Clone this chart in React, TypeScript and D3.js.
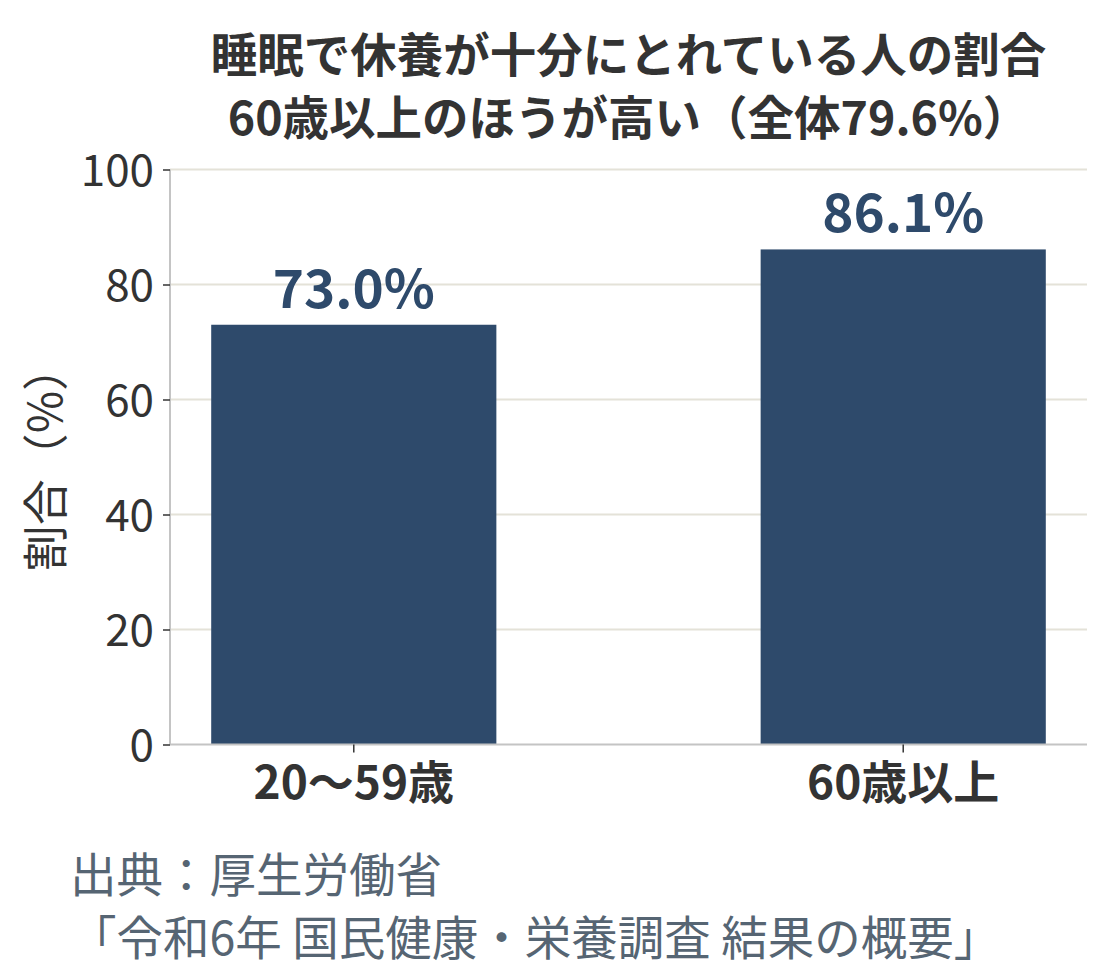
import React, { useEffect, useRef } from "react";
import * as d3 from "d3";

const categories = ["20〜59歳", "60歳以上"];
const values = [73.0, 86.1];
const yTicks = [0, 20, 40, 60, 80, 100];
const titleLines = ["睡眠で休養が十分にとれている人の割合", "60歳以上のほうが高い（全体79.6%）"];
const sourceLines = ["出典：厚生労働省", "「令和6年 国民健康・栄養調査 結果の概要」"];

const FONT = "'Noto Sans CJK JP', 'Noto Sans', sans-serif";
const BAR = "#2e4a6b";
const INK = "#333333";

const width = 1110;
const height = 975;
const margin = { top: 169.5, right: 23, bottom: 230.5, left: 170 };

const YAxis = ({ scale, left, top }) => {
  const ref = useRef(null);
  useEffect(() => {
    const g = d3.select(ref.current);
    g.call(d3.axisLeft(scale).tickValues(yTicks).tickSize(7).tickPadding(9));
    g.select(".domain").remove();
    g.selectAll(".tick line").attr("stroke", INK).attr("stroke-width", 1.5);
    g.selectAll(".tick text")
      .attr("fill", INK)
      .attr("font-size", 44)
      .attr("font-family", FONT)
      .attr("dy", "0.36em");
  });
  return <g ref={ref} transform={`translate(${left}, ${top})`} />;
};

const XAxis = ({ scale, left, top }) => {
  const ref = useRef(null);
  useEffect(() => {
    const g = d3.select(ref.current);
    g.call(d3.axisBottom(scale).tickSize(8).tickPadding(14));
    g.select(".domain").remove();
    g.selectAll(".tick line").attr("stroke", INK).attr("stroke-width", 1.5);
    g.selectAll(".tick text")
      .attr("fill", INK)
      .attr("font-size", 46)
      .attr("font-weight", "bold")
      .attr("font-family", FONT)
      .attr("dy", "0.7em");
  });
  return <g ref={ref} transform={`translate(${left}, ${top})`} />;
};

const App = () => {
  const innerW = width - margin.left - margin.right;
  const innerH = height - margin.top - margin.bottom;

  const x = d3
    .scaleBand()
    .domain(categories)
    .range([0, innerW])
    .paddingInner(0.481)
    .paddingOuter(0.075);

  const y = d3.scaleLinear().domain([0, 100]).range([innerH, 0]);

  return (
    <svg
      width={width}
      height={height}
      style={{ position: "absolute", left: 0, top: 0, background: "#fff" }}
      fontFamily={FONT}
    >
      <g transform={`translate(${margin.left}, ${margin.top})`}>
        {yTicks
          .filter(t => t > 0)
          .map(t => (
            <line
              key={t}
              x1={0}
              x2={innerW}
              y1={y(t)}
              y2={y(t)}
              stroke="#e4e2d8"
              strokeWidth={2}
            />
          ))}
        {categories.map((c, i) => (
          <g key={c}>
            <rect
              x={x(c)}
              y={y(values[i])}
              width={x.bandwidth()}
              height={innerH - y(values[i])}
              fill={BAR}
            />
            <text
              x={x(c) + x.bandwidth() / 2}
              y={y(values[i]) - 17}
              textAnchor="middle"
              fill={BAR}
              fontSize={53}
              fontWeight="bold"
            >
              {values[i].toFixed(1)}%
            </text>
          </g>
        ))}
        <line x1={0} x2={0} y1={0} y2={innerH} stroke="#c4c4c4" strokeWidth={2} />
        <line x1={0} x2={innerW} y1={innerH} y2={innerH} stroke="#c4c4c4" strokeWidth={2} />
      </g>
      <YAxis scale={y} left={margin.left} top={margin.top} />
      <XAxis scale={x} left={margin.left} top={margin.top + innerH} />

      <text
        transform={`translate(62, 458) rotate(-90)`}
        textAnchor="middle"
        fill={INK}
        fontSize={46}
      >
        割合（%）
      </text>

      {titleLines.map((t, i) => (
        <text
          key={t}
          x={margin.left + innerW / 2}
          y={72 + i * 63}
          textAnchor="middle"
          fill={INK}
          fontSize={46.5}
          fontWeight="bold"
        >
          {t}
        </text>
      ))}

      {sourceLines.map((t, i) => (
        <text key={t} x={70} y={892 + i * 63} fill="#566573" fontSize={46.5}>
          {t}
        </text>
      ))}
    </svg>
  );
};

export default App;
